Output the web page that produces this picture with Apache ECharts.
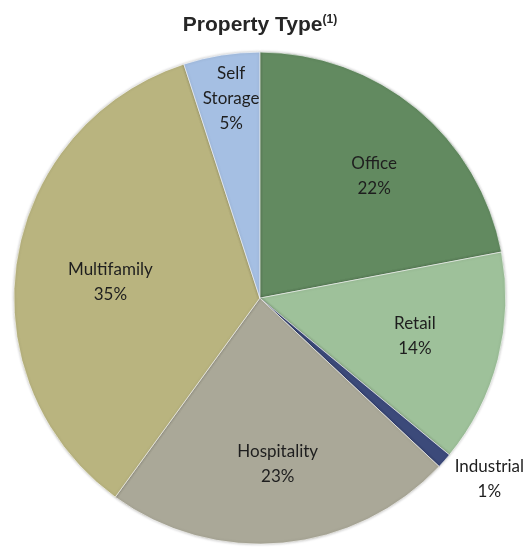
<!DOCTYPE html>
<html><head><meta charset="utf-8">
<script src="https://cdn.jsdelivr.net/npm/echarts@6/dist/echarts.min.js"></script>
<style>html,body{margin:0;padding:0;background:#fff}#c{width:526px;height:548px}</style>
</head><body><div id="c"></div>
<script>
var categories = ['Office', 'Retail', 'Industrial', 'Hospitality', 'Multifamily', 'Self\nStorage'];
var values = [22, 14, 1, 23, 35, 5];
var colors = ['#628a60', '#9ec19a', '#3c4a7a', '#aaa898', '#b9b47f', '#a5bfe3'];
var labelOffsets = [[34,-25],[33,7],[135,98],[6,40],[-25,4],[-9,-75]];

var chart = echarts.init(document.getElementById('c'), null, {renderer:'canvas'});
chart.setOption({
  animation:false,
  title:{
    text:'{a|Property Type}{b|(1)}',
    left:255, top:9, textAlign:'center',
    textStyle:{rich:{
      a:{fontFamily:'Liberation Sans', fontWeight:'bold', fontSize:21, color:'#262626'},
      b:{fontFamily:'Liberation Sans', fontWeight:'bold', fontSize:12, color:'#262626', verticalAlign:'top', padding:[0,0,10,0]}
    }}
  },
  series:[{
    type:'pie',
    center:['49.4%','54.4%'],
    radius:246,
    startAngle:90,
    clockwise:true,
    avoidLabelOverlap:false,
    itemStyle:{borderColor:'rgba(255,255,255,0.6)', borderWidth:1, shadowBlur:3, shadowColor:'rgba(0,0,0,0.25)'},
    label:{show:true, position:'inside', fontFamily:'Lato', fontSize:17, color:'#1e1e1e', lineHeight:25,
      formatter:function(p){return p.name+'\n'+p.value+'%';}},
    labelLine:{show:false},
    emphasis:{disabled:true},
    data:categories.map(function(c,i){return {name:c, value:values[i], itemStyle:{color:colors[i]}, label:{offset:labelOffsets[i]}};})
  }]
});
</script></body></html>
